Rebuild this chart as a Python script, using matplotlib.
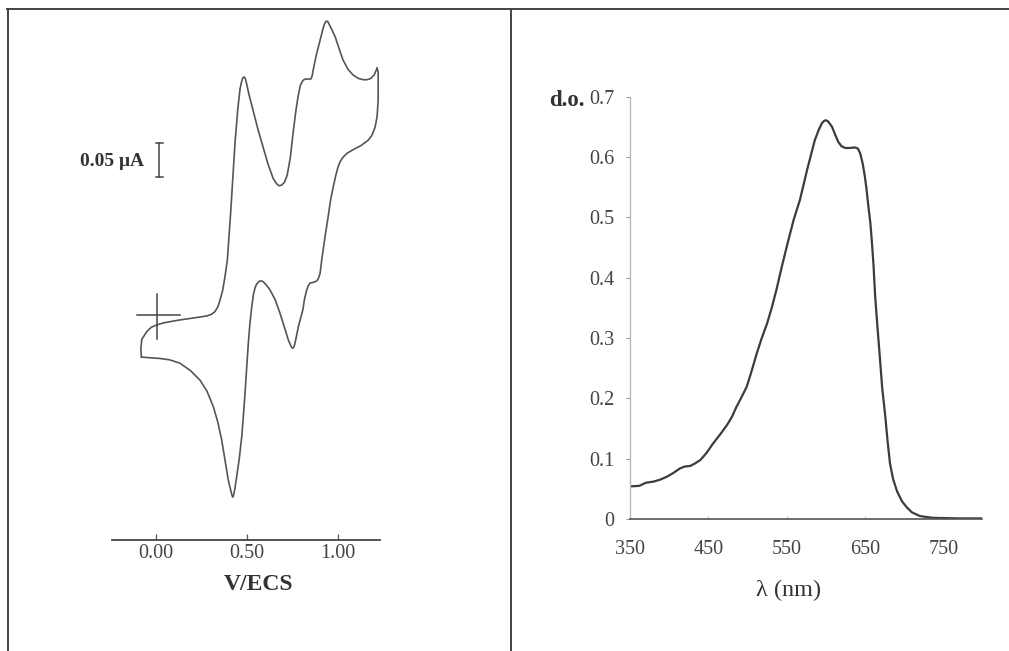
import matplotlib
matplotlib.use("Agg")
import matplotlib.pyplot as plt
from matplotlib.lines import Line2D

# ---------------- data ----------------
# Cyclic voltammogram: forward (anodic) sweep, V vs ECS and current (uA)
cv_fwd_v = [-0.080, -0.083, -0.078, -0.051, -0.025, 0.004, 0.040, 0.077, 0.120, 0.169, 0.230,
            0.279, 0.305, 0.324, 0.340, 0.352, 0.366, 0.379, 0.392, 0.410, 0.434, 0.450,
            0.462, 0.470, 0.477, 0.484, 0.490, 0.497, 0.510, 0.533, 0.560, 0.588, 0.615,
            0.643, 0.662, 0.676, 0.690, 0.705, 0.720, 0.738, 0.753, 0.768, 0.780, 0.792,
            0.802, 0.812, 0.822, 0.835, 0.850, 0.857, 0.863, 0.880, 0.901, 0.915, 0.925,
            0.934, 0.942, 0.950, 0.965, 0.984, 1.005, 1.027, 1.055, 1.082, 1.110, 1.137,
            1.160, 1.180, 1.198, 1.214]
cv_fwd_i = [-0.062, -0.050, -0.036, -0.0246, -0.018, -0.0147, -0.0118, -0.0099, -0.0078,
            -0.0059, -0.0035, -0.0015, 0.0010, 0.0049, 0.012, 0.022, 0.036, 0.0563, 0.081,
            0.150, 0.253, 0.305, 0.333, 0.343, 0.349, 0.350, 0.348, 0.341, 0.325, 0.301,
            0.273, 0.247, 0.222, 0.201, 0.193, 0.190, 0.191, 0.195, 0.205, 0.232, 0.268,
            0.300, 0.321, 0.337, 0.343, 0.346, 0.347, 0.347, 0.347, 0.351, 0.360, 0.382,
            0.404, 0.419, 0.428, 0.432, 0.432, 0.428, 0.420, 0.409, 0.392, 0.375, 0.361,
            0.353, 0.348, 0.346, 0.346, 0.348, 0.353, 0.363]
# reverse (cathodic) sweep
cv_rev_v = [1.214, 1.220, 1.220, 1.214, 1.203, 1.185, 1.165, 1.125, 1.082, 1.050, 1.027,
            1.012, 1.000, 0.987, 0.973, 0.958, 0.945, 0.930, 0.918, 0.910, 0.901, 0.892,
            0.883, 0.865, 0.846, 0.836, 0.828, 0.816, 0.806, 0.794, 0.782, 0.770, 0.762,
            0.756, 0.750, 0.743, 0.735, 0.727, 0.705, 0.681, 0.655, 0.626, 0.603, 0.588,
            0.578, 0.570, 0.561, 0.552, 0.544, 0.535, 0.526, 0.516, 0.507, 0.498, 0.489,
            0.480, 0.471, 0.457, 0.443, 0.433, 0.426, 0.421, 0.416, 0.408, 0.397, 0.380,
            0.361, 0.340, 0.315, 0.280, 0.242, 0.190, 0.132, 0.075, 0.022, -0.030, -0.079]
cv_rev_i = [0.363, 0.357, 0.316, 0.292, 0.276, 0.264, 0.257, 0.249, 0.243, 0.238, 0.232,
            0.226, 0.218, 0.205, 0.188, 0.168, 0.144, 0.118, 0.096, 0.081, 0.061, 0.054,
            0.050, 0.048, 0.047, 0.043, 0.037, 0.024, 0.007, -0.005, -0.017, -0.033, -0.043,
            -0.048, -0.049, -0.047, -0.042, -0.037, -0.018, 0.0025, 0.022, 0.037, 0.045,
            0.049, 0.050, 0.050, 0.048, 0.045, 0.040, 0.030, 0.012, -0.012, -0.042, -0.078,
            -0.115, -0.148, -0.179, -0.212, -0.238, -0.256, -0.265, -0.268, -0.264, -0.255,
            -0.243, -0.215, -0.184, -0.158, -0.135, -0.112, -0.096, -0.082, -0.071, -0.066,
            -0.064, -0.063, -0.062]
cv_ticks = [0.0, 0.5, 1.0]
cv_tick_labels = ["0.00", "0.50", "1.00"]

# Absorption spectrum: wavelength (nm) and optical density
wl = [350, 362, 370, 375, 380, 388, 397, 405, 414, 420, 427, 433, 440, 448, 456, 465,
      474, 480, 486, 492, 499, 505, 512, 518, 525, 531, 537, 544, 551, 559, 567, 572,
      576, 581, 586, 591, 595, 598, 600, 603, 608, 612, 616, 620, 625, 631, 637, 641,
      644, 647, 650, 652, 654, 657, 659, 661, 663, 666, 669, 672, 676, 679, 682, 686,
      691, 697, 703, 710, 720, 730, 737, 750, 770, 800]
od = [0.054, 0.055, 0.060, 0.061, 0.062, 0.065, 0.070, 0.076, 0.084, 0.087, 0.088,
      0.092, 0.098, 0.110, 0.125, 0.140, 0.156, 0.169, 0.186, 0.201, 0.219, 0.244,
      0.275, 0.299, 0.324, 0.350, 0.380, 0.419, 0.456, 0.496, 0.529, 0.556, 0.578,
      0.603, 0.628, 0.645, 0.656, 0.660, 0.661, 0.659, 0.650, 0.637, 0.625, 0.618,
      0.615, 0.615, 0.616, 0.614, 0.606, 0.590, 0.567, 0.547, 0.523, 0.490, 0.457,
      0.420, 0.370, 0.318, 0.269, 0.218, 0.170, 0.128, 0.092, 0.066, 0.046, 0.030,
      0.020, 0.011, 0.005, 0.003, 0.002, 0.0015, 0.001, 0.001]
sp_xticks = [350, 450, 550, 650, 750]
sp_yticks = [0, 0.1, 0.2, 0.3, 0.4, 0.5, 0.6, 0.7]
sp_ytick_labels = ["0", "0.1", "0.2", "0.3", "0.4", "0.5", "0.6", "0.7"]

# ---------------- figure ----------------
W, H = 1009, 651
fig = plt.figure(figsize=(W / 100, H / 100), dpi=100)
fig.patch.set_facecolor("white")
SERIF = ["Liberation Serif", "DejaVu Serif"]
INK = "#333333"


def px_box(x0, x1, ytop, ybot):
    return [x0 / W, 1 - ybot / H, (x1 - x0) / W, (ybot - ytop) / H]


def fx(x):
    return x / W


def fy(y):
    return 1 - y / H


# outer frame lines (top, left, divider)
fig.add_artist(Line2D([fx(7), fx(1009)], [fy(8.5), fy(8.5)], color="#444", lw=1.4))
fig.add_artist(Line2D([fx(7.5), fx(7.5)], [fy(8.5), fy(651)], color="#444", lw=1.4))
fig.add_artist(Line2D([fx(511), fx(511)], [fy(8.5), fy(651)], color="#444", lw=1.4))

# ---------------- left panel: CV ----------------
ax1 = fig.add_axes(px_box(111.7, 380, 9, 540))
ax1.set_xlim(-0.243, 1.23)
ax1.set_ylim(-0.331, 0.45)
ax1.patch.set_alpha(0)
for s in ["top", "left", "right"]:
    ax1.spines[s].set_visible(False)
ax1.spines["bottom"].set_color("#444")
ax1.spines["bottom"].set_linewidth(1.3)
ax1.set_yticks([])
ax1.set_xticks(cv_ticks)
ax1.set_xticklabels(cv_tick_labels, family=SERIF, fontsize=14.5, color="#444")
ax1.tick_params(axis="x", direction="in", length=4.5, width=0.9, color="#555", pad=3)
ax1.plot(cv_fwd_v, cv_fwd_i, color="#555", lw=1.2, solid_joinstyle="round")
ax1.plot(cv_rev_v, cv_rev_i, color="#555", lw=1.2, solid_joinstyle="round")
# origin cross
ax1.plot([0.0 - 0.105, 0.0 + 0.13], [0.0, 0.0], color="#444", lw=1.1)
ax1.plot([0.007, 0.007], [0.031, -0.035], color="#444", lw=1.1)

# current scale bar (0.05 uA)
fig.add_artist(Line2D([fx(159), fx(159)], [fy(143), fy(177)], color="#444", lw=1.1))
fig.add_artist(Line2D([fx(155.5), fx(162.5)], [fy(143), fy(143)], color="#444", lw=1.1))
fig.add_artist(Line2D([fx(155.5), fx(162.5)], [fy(177), fy(177)], color="#444", lw=1.1))
fig.text(fx(144), fy(161), "0.05 μA", family=SERIF, fontsize=14, fontweight="bold",
         color=INK, ha="right", va="center")
fig.text(fx(258), fy(585), "V/ECS", family=SERIF, fontsize=17, fontweight="bold",
         color=INK, ha="center", va="center")

# ---------------- right panel: spectrum ----------------
ax2 = fig.add_axes(px_box(630, 982.4, 96.7, 519))
ax2.set_xlim(350, 800)
ax2.set_ylim(0, 0.7)
ax2.patch.set_alpha(0)
for s in ["top", "right"]:
    ax2.spines[s].set_visible(False)
ax2.spines["bottom"].set_color("#555")
ax2.spines["bottom"].set_linewidth(1.2)
ax2.spines["left"].set_color("#b5b5b5")
ax2.spines["left"].set_linewidth(0.9)
ax2.set_xticks(sp_xticks)
ax2.set_xticklabels([str(v) for v in sp_xticks], family=SERIF, fontsize=14.5, color="#444")
ax2.set_yticks(sp_yticks)
ax2.set_yticklabels(sp_ytick_labels, family=SERIF, fontsize=14.5, color="#444")
ax2.tick_params(axis="x", direction="in", length=2.5, width=0.6, color="#bbb", pad=15)
ax2.tick_params(axis="y", direction="out", length=3, width=0.8, color="#999", pad=8)
ax2.plot(wl, od, color="#3c3c3c", lw=1.6, solid_joinstyle="round")
fig.text(fx(585), fy(101), "d.o.", family=SERIF, fontsize=16.5, fontweight="bold",
         color=INK, ha="right", va="center")
fig.text(fx(789), fy(590), "λ (nm)", family=SERIF, fontsize=17.5,
         color=INK, ha="center", va="center")

fig.savefig("out.png", dpi=100, facecolor="white")
